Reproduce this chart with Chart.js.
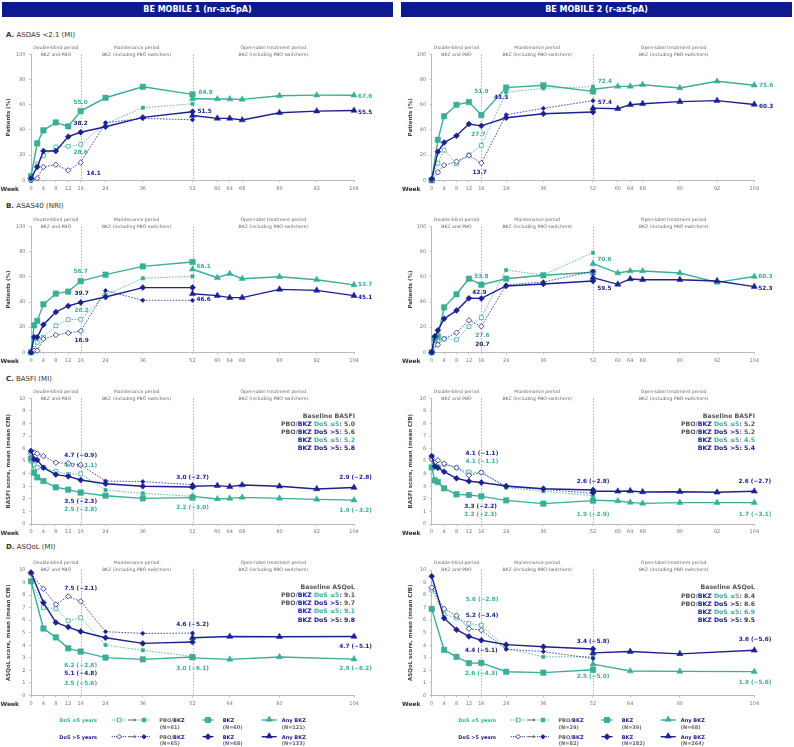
<!DOCTYPE html>
<html><head><meta charset="utf-8">
<script src="https://cdn.jsdelivr.net/npm/chart.js@4.4.1/dist/chart.umd.min.js"></script>
<style>
html,body{margin:0;padding:0;background:#fff}
body{width:794px;height:747px;position:relative;overflow:hidden;font-family:"DejaVu Sans",Verdana,sans-serif}
.hdr{position:absolute;top:2px;height:15px;background:#0d1b8e;color:#fff;font-weight:bold;font-size:8px;line-height:15px;text-align:center;white-space:nowrap}
.pt{position:absolute;font-size:7px;color:#333;white-space:nowrap;line-height:8px}
.base{position:absolute;font-weight:bold;font-size:6.2px;color:#555;text-align:right;white-space:nowrap}
canvas{position:absolute}
svg{position:absolute;left:0;top:0}
</style></head><body>
<div class="hdr" style="left:2px;width:391px">BE MOBILE 1 (nr-axSpA)</div>
<div class="hdr" style="left:401px;width:391px">BE MOBILE 2 (r-axSpA)</div>
<div class="pt" style="left:6px;top:30.5px"><b>A.</b> ASDAS &lt;2.1 (MI)</div>
<div class="pt" style="left:6px;top:202px"><b>B.</b> ASAS40 (NRI)</div>
<div class="pt" style="left:6px;top:375px"><b>C.</b> BASFI (MI)</div>
<div class="pt" style="left:6px;top:543.3px"><b>D.</b> ASQoL (MI)</div>
<script>
const FF='"DejaVu Sans", Verdana, sans-serif';
Chart.defaults.font.family=FF;
const TEAL='#3aae96', NAVY='#1c2090', GRAYT='#555';

// ---- weeks / ticks ----
const wkA=[0,2,4,8,12,16,24,36,52];
const wkBC=[0,1,2,4,8,12,16,24,36,52];
const wkD=[0,4,8,12,16,24,36,52];
const wkOL=[52,60,64,68,80,92,104];
const wkOLD=[52,64,80,104];
const ticksABC=[0,4,8,12,16,24,36,52,60,64,68,80,92,104];
const ticksD=[0,4,8,12,16,24,36,52,64,80,104];

// ---- A. ASDAS <2.1, BE MOBILE 1 ----
const a1_pboLo=[0,13,19.6,26.5,27,28.6,45,57.7,60.8];
const a1_bkzLo=[3.3,29.4,39.7,46,42.9,55.0,65.6,74.3,68.3];
const a1_anyLo=[64.8,64.6,64.6,64.3,67.2,67.7,67.6];
const a1_pboHi=[0,1.6,10.6,12.4,7.9,14.1,45.8,49.2,48.1];
const a1_bkzHi=[1.5,10.6,23.3,23.3,34.7,38.2,42.6,50,54.5];
const a1_anyHi=[51.5,49.2,49.2,47.9,53.7,55,55.5];
// ---- A. BE MOBILE 2 ----
const a2_pboLo=[0,13.6,24,13.3,20.2,27.7,70,73.1,74.5];
const a2_bkzLo=[0,32.2,51,60,62.2,51.9,73.7,75.5,70.7];
const a2_anyLo=[72.4,74.7,74.7,76,73.4,78.7,75.6];
const a2_pboHi=[0,6.4,12,14.9,19.7,13.7,52.1,57.2,63.3];
const a2_bkzHi=[1,22.6,30,35.4,44.7,43.3,49.7,52.9,54.3];
const a2_anyHi=[57.4,56.9,60.1,60.9,62.5,63.3,60.3];
// ---- B. ASAS40, BE MOBILE 1 ----
const b1_pboLo=[0,3,8,11.9,21.2,26,26.2,45.6,58.9,60.5];
const b1_bkzLo=[0,21.5,25,38.2,46.7,48.3,56.7,61.8,68.4,71.9];
const b1_anyLo=[66.1,59.4,62.6,58.6,60.2,57.8,53.7];
const b1_pboHi=[0,1.3,1.3,10.6,13.8,15.4,16.9,49.1,41.4,41.4];
const b1_bkzHi=[0,12,12,22,32.1,36.9,39.7,44,51.5,51.5];
const b1_anyHi=[46.6,45.1,43.5,43.5,50.1,49.3,45.1];
// ---- B. BE MOBILE 2 ----
const b2_pboLo=[0,8,9.5,10.9,10.1,20.4,27.6,65.5,61.5,79.3];
const b2_bkzLo=[0,11,12.5,35.8,46.2,58.6,53.8,58.6,61.3,63.7];
const b2_anyLo=[70.6,63.1,64.7,64.7,63.1,55.7,60.3];
const b2_pboHi=[0,6,6,10.6,15.6,25.5,20.7,53.6,56,64.5];
const b2_bkzHi=[0,12.7,17.5,26.8,33.2,43,42.9,52.8,54.4,56.8];
const b2_anyHi=[59.5,54.1,58.4,57.8,57.8,56.8,52.3];
// ---- C. BASFI, BE MOBILE 1 ----
const c1_pboLo=[5.0,4.7,4.5,4.5,4.19,3.95,4.0,2.7,2.44,2.2];
const c1_bkzLo=[5.2,4.08,3.71,3.42,2.92,2.73,2.5,2.25,2.04,2.1];
const c1_anyLo=[2.2,1.99,2.04,2.12,2.04,1.96,1.9];
const c1_pboHi=[5.6,5.7,5.6,5.4,4.88,4.83,4.7,3.42,3.37,3.13];
const c1_bkzHi=[5.8,5.15,5.1,4.48,3.93,3.79,3.5,3.2,3.0,2.94];
const c1_anyHi=[3.0,3.05,2.97,3.1,3.0,2.79,2.9];
// ---- C. BE MOBILE 2 ----
const c2_pboLo=[5.2,4.75,4.56,4.75,4.48,4.14,4.1,2.89,2.6,2.25];
const c2_bkzLo=[4.5,3.47,3.34,2.84,2.36,2.31,2.2,1.88,1.62,1.86];
const c2_anyLo=[1.9,1.83,1.72,1.64,1.7,1.7,1.7];
const c2_pboHi=[5.2,4.88,5.07,4.8,4.48,3.87,4.1,2.97,2.76,2.44];
const c2_bkzHi=[5.4,4.59,4.48,4.16,3.63,3.4,3.3,3.02,2.81,2.7];
const c2_anyHi=[2.6,2.6,2.63,2.55,2.57,2.52,2.6];
// ---- D. ASQoL, BE MOBILE 1 ----
const d1_pboLo=[9.1,7.0,6.93,5.95,6.2,4.02,3.6,3.12];
const d1_bkzLo=[9.1,5.34,4.63,3.76,3.5,3.02,2.88,3.07];
const d1_anyLo=[3.0,2.88,3.07,2.9];
const d1_pboHi=[9.7,8.5,7.25,7.9,7.5,5.08,4.95,4.97];
const d1_bkzHi=[9.8,7.4,5.82,5.45,5.1,4.6,4.15,4.26];
const d1_anyHi=[4.6,4.7,4.68,4.7];
// ---- D. BE MOBILE 2 ----
const d2_pboLo=[8.4,6.47,6.18,5.74,5.6,3.76,3.08,3.1];
const d2_bkzLo=[6.9,3.63,3.08,2.58,2.6,1.89,1.82,2.05];
const d2_anyLo=[2.5,1.95,1.92,1.9];
const d2_pboHi=[8.6,6.9,6.37,5.32,5.2,3.68,3.5,2.95];
const d2_bkzHi=[9.5,6.16,5.24,4.71,4.4,4.05,3.89,3.71];
const d2_anyHi=[3.4,3.5,3.32,3.6];

// baselines [PBO/BKZ ≤5, PBO/BKZ >5, BKZ ≤5, BKZ >5]
const baseC1=['5.0','5.6','5.2','5.8'];
const baseC2=['5.2','5.2','4.5','5.4'];
const baseD1=['9.1','9.7','9.1','9.8'];
const baseD2=['8.4','8.6','6.9','9.5'];
// legend N
const legN=[[61,60,121],[65,68,133],[29,39,68],[82,182,264]];

// ---- value labels: [series, week, text, dx, dy, align] ----
const a1_lab=[['bkzLo',16,'55.0',0,-9,'center'],['bkzHi',16,'38.2',0,-8.3,'center'],['pboLo',16,'28.6',0,8,'center'],['pboHi',16,'14.1',13,11,'center'],
 ['anyLo',52,'64.8',6,-6,'left'],['anyHi',52,'51.5',5,-4,'left'],['anyLo',104,'67.6',4,1,'left'],['anyHi',104,'55.5',4,2,'left']];
const a2_lab=[['bkzLo',16,'51.9',0,-23.6,'center'],['bkzHi',16,'43.3',12.7,-28.3,'left'],['pboLo',16,'27.7',-3,-11,'center'],['pboHi',16,'13.7',-1.6,9.6,'center'],
 ['anyLo',52,'72.4',4.7,-8,'left'],['anyHi',52,'57.4',4.7,-6,'left'],['anyLo',104,'75.6',4.7,0,'left'],['anyHi',104,'60.3',4.7,2,'left']];
const b1_lab=[['bkzLo',16,'56.7',0,-9.4,'center'],['bkzHi',16,'39.7',1,-9,'center'],['pboLo',16,'26.2',1,-9,'center'],['pboHi',16,'16.9',1,9.4,'center'],
 ['anyLo',52,'66.1',4,-3,'left'],['anyHi',52,'46.6',4,5.5,'left'],['anyLo',104,'53.7',4,0,'left'],['anyHi',104,'45.1',4,2,'left']];
const b2_lab=[['bkzLo',16,'53.8',0,-8,'center'],['bkzHi',16,'42.9',-2,-6,'center'],['pboLo',16,'27.6',1,18,'center'],['pboHi',16,'20.7',1,18,'center'],
 ['anyLo',52,'70.6',4.3,-4,'left'],['anyHi',52,'59.5',4.3,11,'left'],['anyLo',104,'60.3',4,0,'left'],['anyHi',104,'52.3',4,2,'left']];
const c1_lab=[['pboHi',16,'4.7 (\u22120.9)',0,-9,'center'],['pboLo',16,'4.0 (\u22121.1)',0,-8.4,'center'],['bkzHi',16,'3.5 (\u22122.3)',0,21.7,'center'],['bkzLo',16,'2.5 (\u22122.8)',0,17.4,'center'],
 ['anyHi',52,'3.0 (\u22122.7)',0,-8.6,'center'],['anyLo',52,'2.2 (\u22123.0)',0,11,'center'],['anyHi',104,'2.9 (\u22122.8)',1.5,-10,'center'],['anyLo',104,'1.9 (\u22123.2)',1.5,10,'center']];
const c2_lab=[['pboHi',16,'4.1 (\u22121.1)',0.6,-19,'center'],['pboLo',16,'4.1 (\u22121.1)',0.6,-11,'center'],['bkzHi',16,'3.3 (\u22122.2)',-0.7,24,'center'],['bkzLo',16,'2.2 (\u22122.3)',-0.7,18,'center'],
 ['anyHi',52,'2.6 (\u22122.8)',0,-9.6,'center'],['anyLo',52,'1.9 (\u22122.9)',0,14,'center'],['anyHi',104,'2.6 (\u22122.7)',0.5,-9.6,'center'],['anyLo',104,'1.7 (\u22123.1)',0.7,11.7,'center']];
const d1_lab=[['pboHi',16,'7.5 (\u22122.1)',0,-12.8,'center'],['pboLo',16,'6.2 (\u22122.8)',0,48,'center'],['bkzHi',16,'5.1 (\u22124.8)',0,42,'center'],['bkzLo',16,'3.5 (\u22125.6)',0,31.5,'center'],
 ['anyHi',52,'4.6 (\u22125.2)',0,-13.7,'center'],['anyLo',52,'3.0 (\u22126.1)',0,11,'center'],['anyHi',104,'4.7 (\u22125.1)',1.5,10,'center'],['anyLo',104,'2.9 (\u22126.2)',1.5,9.6,'center']];
const d2_lab=[['pboLo',16,'5.6 (\u22122.8)',0.8,-26,'center'],['pboHi',16,'5.2 (\u22123.4)',0.8,-15,'center'],['bkzHi',16,'4.4 (\u22125.1)',0,10,'center'],['bkzLo',16,'2.6 (\u22124.3)',0,10.7,'center'],
 ['anyHi',52,'3.4 (\u22125.8)',0,-11,'center'],['anyLo',52,'2.5 (\u22125.0)',0,12.7,'center'],['anyHi',104,'3.6 (\u22125.6)',0.7,-10.4,'center'],['anyLo',104,'1.9 (\u22125.6)',0.7,11.3,'center']];

const periods=[{a:0,b:16,l1:'Double-blind period',l2:'BKZ and PBO'},{a:16,b:52,l1:'Maintenance period',l2:'BKZ (including PBO switchers)'},{a:52,b:104,l1:'Open-label treatment period',l2:'BKZ (including PBO switchers)'}];

// ---- layout ----
const cols=[{left:0,width:394,chartL:31,chartR:354,weekX:0.5,titlePad:5.7},{left:397,width:397,chartL:431.7,chartR:754.3,weekX:5,titlePad:10.4}];
const rows=[{top:54.5,bottom:180.3},{top:226.7,bottom:352.3},{top:398.3,bottom:524},{top:570,bottom:695.5}];

const pct='Patients (%)';
const panels=[
 {col:0,row:0,wk:wkA,wkOL:wkOL,ticks:ticksABC,ymax:100,step:20,title:pct,s:{pboLo:a1_pboLo,bkzLo:a1_bkzLo,anyLo:a1_anyLo,pboHi:a1_pboHi,bkzHi:a1_bkzHi,anyHi:a1_anyHi},labels:a1_lab},
 {col:1,row:0,wk:wkA,wkOL:wkOL,ticks:ticksABC,ymax:100,step:20,title:pct,s:{pboLo:a2_pboLo,bkzLo:a2_bkzLo,anyLo:a2_anyLo,pboHi:a2_pboHi,bkzHi:a2_bkzHi,anyHi:a2_anyHi},labels:a2_lab},
 {col:0,row:1,wk:wkBC,wkOL:wkOL,ticks:ticksABC,ymax:100,step:20,title:pct,s:{pboLo:b1_pboLo,bkzLo:b1_bkzLo,anyLo:b1_anyLo,pboHi:b1_pboHi,bkzHi:b1_bkzHi,anyHi:b1_anyHi},labels:b1_lab},
 {col:1,row:1,wk:wkBC,wkOL:wkOL,ticks:ticksABC,ymax:100,step:20,title:pct,s:{pboLo:b2_pboLo,bkzLo:b2_bkzLo,anyLo:b2_anyLo,pboHi:b2_pboHi,bkzHi:b2_bkzHi,anyHi:b2_anyHi},labels:b2_lab},
 {col:0,row:2,wk:wkBC,wkOL:wkOL,ticks:ticksABC,ymax:10,step:1,title:'BASFI score, mean (mean CfB)',s:{pboLo:c1_pboLo,bkzLo:c1_bkzLo,anyLo:c1_anyLo,pboHi:c1_pboHi,bkzHi:c1_bkzHi,anyHi:c1_anyHi},labels:c1_lab},
 {col:1,row:2,wk:wkBC,wkOL:wkOL,ticks:ticksABC,ymax:10,step:1,title:'BASFI score, mean (mean CfB)',s:{pboLo:c2_pboLo,bkzLo:c2_bkzLo,anyLo:c2_anyLo,pboHi:c2_pboHi,bkzHi:c2_bkzHi,anyHi:c2_anyHi},labels:c2_lab},
 {col:0,row:3,wk:wkD,wkOL:wkOLD,ticks:ticksD,ymax:10,step:1,title:'ASQoL score, mean (mean CfB)',s:{pboLo:d1_pboLo,bkzLo:d1_bkzLo,anyLo:d1_anyLo,pboHi:d1_pboHi,bkzHi:d1_bkzHi,anyHi:d1_anyHi},labels:d1_lab},
 {col:1,row:3,wk:wkD,wkOL:wkOLD,ticks:ticksD,ymax:10,step:1,title:'ASQoL score, mean (mean CfB)',s:{pboLo:d2_pboLo,bkzLo:d2_bkzLo,anyLo:d2_anyLo,pboHi:d2_pboHi,bkzHi:d2_bkzHi,anyHi:d2_anyHi},labels:d2_lab}
];

function makeDeco(labels, weekX){
  return {
    id:'deco',
    beforeDatasetsDraw(chart){
      const {ctx,chartArea:ca,scales:{x}}=chart;
      ctx.save(); ctx.strokeStyle='#999'; ctx.lineWidth=0.8; ctx.setLineDash([1.5,1.5]);
      [16,52].forEach(w=>{const px=Math.round(x.getPixelForValue(w))+0.5; ctx.beginPath(); ctx.moveTo(px,ca.top); ctx.lineTo(px,ca.bottom); ctx.stroke();});
      ctx.restore();
    },
    afterDatasetsDraw(chart){
      const {ctx,chartArea:ca,scales:{x,y}}=chart;
      ctx.save();
      ctx.font='4.6px '+FF; ctx.fillStyle='#666'; ctx.textAlign='center'; ctx.textBaseline='middle';
      periods.forEach(p=>{const cx=x.getPixelForValue((p.a+p.b)/2); ctx.fillText(p.l1,cx,ca.top-6.8); ctx.fillText(p.l2,cx,ca.top);});
      ctx.font='bold 6px '+FF; ctx.fillStyle='#333'; ctx.textAlign='left';
      ctx.fillText('Week',weekX,ca.bottom+9.3);
      ctx.font='bold 5.8px '+FF;
      labels.forEach(([key,w,txt,dx,dy,al])=>{
        const d=chart.data.datasets.find(q=>q.key===key);
        const pt=d.data.find(q=>q.x===w);
        ctx.fillStyle=key.endsWith('Lo')?TEAL:NAVY;
        ctx.textAlign=al;
        ctx.fillText(txt,x.getPixelForValue(w)+dx,y.getPixelForValue(pt.y)+dy);
      });
      ctx.restore();
    }
  };
}

function build(p){
  const C=cols[p.col], R=rows[p.row];
  const cTop=Math.floor(R.top-17), cH=Math.ceil(R.bottom+14-cTop);
  const cv=document.createElement('canvas');
  cv.width=C.width; cv.height=cH;
  cv.style.left=C.left+'px'; cv.style.top=cTop+'px';
  cv.style.width=C.width+'px'; cv.style.height=cH+'px';
  document.body.appendChild(cv);
  const yW=C.chartL-C.left, padR=C.left+C.width-C.chartR, padT=R.top-cTop, xH=cH-(R.bottom-cTop);
  const mk=(w,v)=>w.map((xx,i)=>({x:xx,y:v[i]}));
  const datasets=[
    {key:'anyHi',data:mk(p.wkOL,p.s.anyHi),borderColor:NAVY,borderWidth:1.4,pointStyle:'triangle',pointRadius:3.6,pointBorderWidth:0.5},
    {key:'bkzHi',data:mk(p.wk,p.s.bkzHi),borderColor:NAVY,borderWidth:1.4,pointStyle:'rectRot',pointRadius:3,pointBorderWidth:0.5},
    {key:'pboHi',data:mk(p.wk,p.s.pboHi),borderColor:NAVY,borderWidth:0.8,borderDash:[1.6,1.4],pointStyle:'rectRot',
      pointRadius:p.wk.map(w=>w<=16?2.7:2.1),pointBackgroundColor:p.wk.map(w=>w<=16?'#fff':NAVY),pointBorderWidth:0.8},
    {key:'anyLo',data:mk(p.wkOL,p.s.anyLo),borderColor:TEAL,borderWidth:1.4,pointStyle:'triangle',pointRadius:3.6,pointBorderWidth:0.5},
    {key:'bkzLo',data:mk(p.wk,p.s.bkzLo),borderColor:TEAL,borderWidth:1.4,pointStyle:'rect',pointRadius:3.9,pointBorderWidth:0.5},
    {key:'pboLo',data:mk(p.wk,p.s.pboLo),borderColor:TEAL,borderWidth:0.8,borderDash:[1.6,1.4],pointStyle:'rect',
      pointRadius:p.wk.map(w=>w<=16?2.7:2.2),pointBackgroundColor:p.wk.map(w=>w<=16?'#fff':TEAL),pointBorderWidth:0.8}
  ];
  datasets.forEach(d=>{d.clip=false;d.tension=0;d.fill=false;d.backgroundColor=d.borderColor;d.pointBorderColor=d.borderColor;
    if(!d.pointBackgroundColor)d.pointBackgroundColor=d.borderColor;d.pointHoverRadius=d.pointRadius;});
  const grid={display:true,drawOnChartArea:false,drawTicks:true,tickLength:2,color:'#aaa',lineWidth:0.7};
  const border={display:true,color:'#aaa',width:0.8};
  new Chart(cv,{type:'line',data:{datasets},options:{
    responsive:false,animation:false,devicePixelRatio:1,
    layout:{padding:{left:0,right:padR,top:padT,bottom:0}},
    plugins:{legend:{display:false},tooltip:{enabled:false}},
    scales:{
      x:{type:'linear',min:0,max:104,
        afterBuildTicks:a=>{a.ticks=p.ticks.map(v=>({value:v}));},
        afterFit:a=>{a.height=xH;},
        ticks:{autoSkip:false,maxRotation:0,color:'#777',font:{size:5},padding:3},
        grid,border},
      y:{type:'linear',min:0,max:p.ymax,
        afterFit:a=>{a.width=yW;},
        ticks:{stepSize:p.step,color:'#777',font:{size:5},padding:3.5},
        grid,border,
        title:{display:true,text:p.title,color:'#444',font:{size:5.5,weight:'bold'},padding:{top:C.titlePad,bottom:0}}}
    }},plugins:[makeDeco(p.labels,C.weekX)]});
}
panels.forEach(build);

// ---- baseline boxes ----
function baseBox(name, vals, right, top, lh){
  const d=document.createElement('div');
  d.className='base';
  d.style.right=(794-right)+'px'; d.style.top=top+'px'; d.style.lineHeight=lh+'px';
  const n=`<span style="color:${NAVY}">`, t=`<span style="color:${TEAL}">`;
  d.innerHTML=`Baseline ${name}<br>PBO/${n}BKZ</span>${t} DoS \u22645</span>: ${vals[0]}<br>PBO/${n}BKZ DoS &gt;5</span>: ${vals[1]}<br>${n}BKZ</span>${t} DoS \u22645: ${vals[2]}</span><br>${n}BKZ DoS &gt;5: ${vals[3]}</span>`;
  document.body.appendChild(d);
}
baseBox('BASFI',baseC1,355,412,8);
baseBox('BASFI',baseC2,755,412,8);
baseBox('ASQoL',baseD1,355,582.7,8.2);
baseBox('ASQoL',baseD2,755,583.3,8.3);

// ---- legend ----
(function(){
  const rowsY=[720,736.7];
  let s='';
  const mark=(shape,cx,cy,r,fill,col)=>{
    if(shape==='sq') return `<rect x="${cx-r}" y="${cy-r}" width="${2*r}" height="${2*r}" fill="${fill}" stroke="${col}" stroke-width="0.8"/>`;
    if(shape==='di') return `<polygon points="${cx-r},${cy} ${cx},${cy-r} ${cx+r},${cy} ${cx},${cy+r}" fill="${fill}" stroke="${col}" stroke-width="0.8"/>`;
    return `<polygon points="${cx},${cy-r} ${cx+r*0.87},${cy+r*0.5} ${cx-r*0.87},${cy+r*0.5}" fill="${fill}" stroke="${col}" stroke-width="0.5"/>`;
  };
  [0,399].forEach((off,ci)=>{
    rowsY.forEach((yy,ri)=>{
      const col=ri===0?TEAL:NAVY, N=legN[ci*2+ri], sh=ri===0?'sq':'di';
      const big=ri===0?2.6:3;
      s+=`<text x="${59.3+off}" y="${yy+1.8}" fill="${col}" font-weight="bold" font-size="5">${ri===0?'DoS \u22645 years':'DoS &gt;5 years'}</text>`;
      s+=`<line x1="${111.7+off}" y1="${yy}" x2="${126.7+off}" y2="${yy}" stroke="${col}" stroke-width="0.9" stroke-dasharray="1.2,1"/>`;
      s+=mark(sh,119.2+off,yy,ri===0?1.8:2.3,'#fff',col);
      s+=`<line x1="${128+off}" y1="${yy}" x2="${134.5+off}" y2="${yy}" stroke="#666" stroke-width="1"/>`;
      s+=`<polygon points="${134+off},${yy-1.6} ${137+off},${yy} ${134+off},${yy+1.6}" fill="#666"/>`;
      s+=`<line x1="${138+off}" y1="${yy}" x2="${150+off}" y2="${yy}" stroke="${col}" stroke-width="0.9" stroke-dasharray="1.2,1"/>`;
      s+=mark(sh,144+off,yy,ri===0?1.8:2.2,col,col);
      s+=`<text x="${159.3+off}" y="${yy+1.8}" font-weight="bold" font-size="5.1" fill="#666">PBO/<tspan fill="${NAVY}">BKZ</tspan></text>`;
      s+=`<text x="${159.8+off}" y="${yy+8.5}" font-weight="bold" font-size="5" fill="#666">(N=${N[0]})</text>`;
      s+=`<line x1="${202.5+off}" y1="${yy}" x2="${213.5+off}" y2="${yy}" stroke="${col}" stroke-width="1.4"/>`;
      s+=mark(sh,208+off,yy,big,col,col);
      s+=`<text x="${222.7+off}" y="${yy+1.8}" font-weight="bold" font-size="5.1" fill="${NAVY}">BKZ</text>`;
      s+=`<text x="${222.7+off}" y="${yy+8.5}" font-weight="bold" font-size="5" fill="#666">(N=${N[1]})</text>`;
      s+=`<line x1="${261.7+off}" y1="${yy}" x2="${276.7+off}" y2="${yy}" stroke="${col}" stroke-width="1.4"/>`;
      s+=mark('tr',269.2+off,yy-0.5,3.6,col,col);
      s+=`<text x="${281.7+off}" y="${yy+1.8}" font-weight="bold" font-size="5.1" fill="${NAVY}">Any BKZ</text>`;
      s+=`<text x="${281.7+off}" y="${yy+8.5}" font-weight="bold" font-size="5" fill="#666">(N=${N[2]})</text>`;
    });
  });
  const svg=document.createElementNS('http://www.w3.org/2000/svg','svg');
  svg.setAttribute('width','794'); svg.setAttribute('height','747');
  svg.setAttribute('font-family','DejaVu Sans, Verdana, sans-serif');
  svg.innerHTML=s;
  document.body.appendChild(svg);
})();
</script>
</body></html>
